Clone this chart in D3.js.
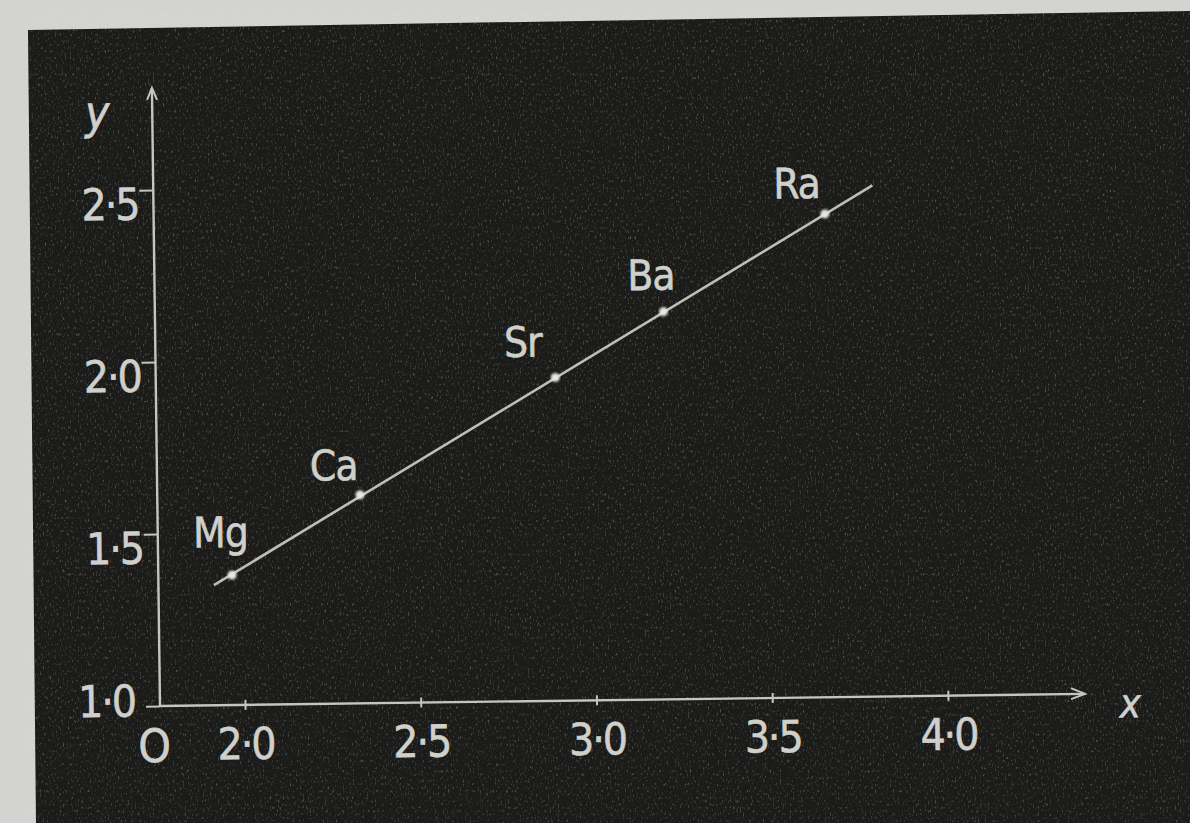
<!DOCTYPE html>
<html>
<head>
<meta charset="utf-8">
<script src="https://cdn.jsdelivr.net/npm/d3@7"></script>
<style>
  html, body { margin: 0; padding: 0; background: #d3d3d1; }
  svg { display: block; }
  text { font-family: "Liberation Sans Narrow", "DejaVu Sans Condensed", "Liberation Sans", sans-serif; fill: #cfcfcc; stroke: #cfcfcc; stroke-width: 0.6; }
</style>
</head>
<body>
<div id="chart"></div>
<script>
// data
var elements = ["Mg", "Ca", "Sr", "Ba", "Ra"];
var xValues = [1.968, 2.335, 2.895, 3.205, 3.668];
var yValues = [1.378, 1.606, 1.940, 2.127, 2.405];
var fitX = [1.916, 3.804];
var fitY = [1.349, 2.486];
var xTicks = [2.0, 2.5, 3.0, 3.5, 4.0];
var yTicks = [1.0, 1.5, 2.0, 2.5];

var width = 1190, height = 823;
var ox = 160, oy = 706;

var svg = d3.select("#chart").append("svg")
  .attr("width", width)
  .attr("height", height);

var defs = svg.append("defs");
var grain = defs.append("filter").attr("id", "grain")
  .attr("x", 0).attr("y", 0).attr("width", "100%").attr("height", "100%");
grain.append("feTurbulence")
  .attr("type", "fractalNoise")
  .attr("baseFrequency", "0.6 0.3")
  .attr("numOctaves", 2)
  .attr("seed", 7)
  .attr("result", "noise");
grain.append("feColorMatrix")
  .attr("in", "noise")
  .attr("type", "matrix")
  .attr("values", "0 0 0 0 0.9  0 0 0 0 0.9  0 0 0 0 0.9  0 0 0 3 -1.75");

var glow = defs.append("filter").attr("id", "glow");
glow.append("feGaussianBlur").attr("stdDeviation", 0.8);

// dark board, slightly skewed like the photo
svg.append("polygon")
  .attr("points", "28,30 1190,11 1190,823 36,823")
  .attr("fill", "#1b1b1a");
svg.append("polygon")
  .attr("points", "28,30 1190,11 1190,823 36,823")
  .attr("fill", "#fff")
  .attr("opacity", 0.3)
  .attr("filter", "url(#grain)");

var x = d3.scaleLinear().domain([2.0, 4.0]).range([ox + 85, ox + 788]);
var y = d3.scaleLinear().domain([1.0, 2.5]).range([oy, oy - 516]);
var x0 = x.invert(ox), xEnd = 4.39;
var yEnd = 2.797;

var g = svg.append("g")
  .attr("transform", "rotate(-0.75," + ox + "," + oy + ")");

var chalk = "#c4c4c0";

// axes lines with arrows
g.append("line")
  .attr("x1", x(x0)).attr("y1", y(1)).attr("x2", x(xEnd)).attr("y2", y(1))
  .attr("stroke", chalk).attr("stroke-width", 2.4);
g.append("path")
  .attr("d", "M" + (x(xEnd) - 14) + "," + (y(1) - 6) + "L" + x(xEnd) + "," + y(1) + "L" + (x(xEnd) - 14) + "," + (y(1) + 5))
  .attr("fill", "none").attr("stroke", chalk).attr("stroke-width", 2);
g.append("line")
  .attr("x1", x(x0)).attr("y1", y(1)).attr("x2", x(x0)).attr("y2", y(yEnd))
  .attr("stroke", chalk).attr("stroke-width", 2.4);
g.append("path")
  .attr("d", "M" + (x(x0) - 5) + "," + (y(yEnd) + 12) + "L" + x(x0) + "," + y(yEnd) + "L" + (x(x0) + 5) + "," + (y(yEnd) + 12))
  .attr("fill", "none").attr("stroke", chalk).attr("stroke-width", 2);

var fmt = function (d) { return d.toFixed(1).replace(".", "·"); };

// y axis ticks
var yAxis = d3.axisLeft(y).tickValues(yTicks).tickFormat(fmt).tickSize(14).tickPadding(1);
var yg = g.append("g").attr("transform", "translate(" + ox + ",0)").call(yAxis);
yg.select(".domain").remove();
yg.selectAll(".tick line").attr("stroke", chalk).attr("stroke-width", 2);
yg.selectAll(".tick text")
  .attr("font-size", 44).attr("fill", "#d0d0cc")
  .attr("dy", "0.66em").attr("letter-spacing", -2);
// the 1·0 label sits higher, tucked up-left of the origin
yg.selectAll(".tick").filter(function (d) { return d === 1.0; }).select("text")
  .attr("dy", "0.22em").attr("x", -25);

// x axis ticks
var xAxis = d3.axisBottom(x).tickValues(xTicks).tickFormat(fmt).tickSize(5).tickPadding(18);
var xg = g.append("g").attr("transform", "translate(0," + oy + ")").call(xAxis);
xg.select(".domain").remove();
xg.selectAll(".tick line").attr("y1", -5).attr("stroke", chalk).attr("stroke-width", 2);
xg.selectAll(".tick text")
  .attr("font-size", 44).attr("fill", "#d0d0cc")
  .attr("letter-spacing", -2);

// origin and axis names
g.append("text").attr("x", ox - 6).attr("y", oy + 56)
  .attr("text-anchor", "middle").attr("font-size", 46).text("O");
g.append("text").attr("x", ox - 55).attr("y", y(yEnd) + 40)
  .attr("text-anchor", "middle").attr("font-size", 46).attr("font-style", "italic").text("y");
g.append("text").attr("x", x(xEnd) + 45).attr("y", oy + 24)
  .attr("text-anchor", "middle").attr("font-size", 40).attr("font-style", "italic").text("x");

// fitted line
g.append("line")
  .attr("x1", x(fitX[0])).attr("y1", y(fitY[0]))
  .attr("x2", x(fitX[1])).attr("y2", y(fitY[1]))
  .attr("stroke", "#bdbdb9").attr("stroke-width", 2.6);

// points
var pts = elements.map(function (e, i) { return { name: e, x: xValues[i], y: yValues[i] }; });
g.selectAll("circle.pt").data(pts).enter().append("circle")
  .attr("class", "pt")
  .attr("cx", function (d) { return x(d.x); })
  .attr("cy", function (d) { return y(d.y); })
  .attr("r", 4.5)
  .attr("fill", "#e6e6e2")
  .attr("filter", "url(#glow)");

// element labels, offset from their points
var labelDx = [-11, -26, -32, -12, -28];
var labelDy = [-28, -15, -21, -22, -16];
g.selectAll("text.el").data(pts).enter().append("text")
  .attr("class", "el")
  .attr("x", function (d, i) { return x(d.x) + labelDx[i]; })
  .attr("y", function (d, i) { return y(d.y) + labelDy[i]; })
  .attr("text-anchor", "middle")
  .attr("font-size", 42)
  .attr("letter-spacing", -1)
  .attr("fill", "#d2d2ce")
  .text(function (d) { return d.name; });
</script>
</body>
</html>
